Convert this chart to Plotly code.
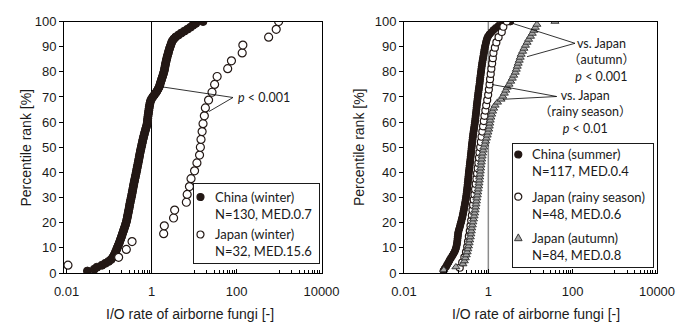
import plotly.graph_objects as go

# ---------------- data ----------------
china_winter = [0.031, 0.045, 0.052, 0.068, 0.082, 0.098, 0.112, 0.122, 0.130, 0.137,
                0.143, 0.150, 0.156, 0.163, 0.170, 0.177, 0.184, 0.191, 0.198, 0.205,
                0.212, 0.220, 0.228, 0.236, 0.244, 0.252, 0.259, 0.265, 0.270, 0.276,
                0.282, 0.288, 0.294, 0.300, 0.305, 0.311, 0.318, 0.325, 0.333, 0.340,
                0.347, 0.354, 0.361, 0.368, 0.375, 0.383, 0.391, 0.400, 0.409, 0.418,
                0.428, 0.437, 0.446, 0.455, 0.465, 0.475, 0.485, 0.495, 0.505, 0.515,
                0.525, 0.536, 0.547, 0.560, 0.573, 0.586, 0.600, 0.614, 0.628, 0.645,
                0.662, 0.680, 0.700, 0.720, 0.742, 0.765, 0.785, 0.795, 0.805, 0.815,
                0.825, 0.837, 0.850, 0.862, 0.875, 0.890, 0.905, 0.925, 0.950, 1.000,
                1.07, 1.16, 1.25, 1.34, 1.42, 1.50, 1.56, 1.61, 1.66, 1.72,
                1.78, 1.84, 1.90, 1.96, 2.01, 2.05, 2.09, 2.13, 2.18, 2.23,
                2.29, 2.35, 2.42, 2.50, 2.56, 2.65, 2.75, 2.85, 2.95, 3.10,
                3.35, 3.70, 4.30, 5.00, 5.90, 7.00, 8.20, 9.40, 11.0, 16.3]

japan_winter = [0.0108, 0.168, 0.255, 0.348, 1.93, 2.0, 3.3, 3.5, 6.6, 6.9,
                7.8, 8.5, 10.3, 11.7, 13.5, 14.1, 14.6, 15.5, 16.3, 17.5,
                18.5, 22.0, 26.5, 30.5, 35.0, 62.0, 76.0, 136.0, 141.0, 570.0,
                860.0, 980.0]

china_summer = [0.086, 0.092, 0.100, 0.106, 0.114, 0.121, 0.130, 0.140, 0.150, 0.160,
                0.167, 0.173, 0.178, 0.181, 0.184, 0.186, 0.189, 0.191, 0.194, 0.200,
                0.208, 0.214, 0.221, 0.228, 0.235, 0.242, 0.248, 0.254, 0.260, 0.266,
                0.272, 0.278, 0.284, 0.290, 0.295, 0.300, 0.305, 0.310, 0.314, 0.318,
                0.322, 0.326, 0.330, 0.334, 0.338, 0.342, 0.346, 0.351, 0.356, 0.361,
                0.366, 0.371, 0.376, 0.381, 0.386, 0.391, 0.396, 0.400, 0.405, 0.410,
                0.416, 0.422, 0.428, 0.434, 0.440, 0.448, 0.456, 0.464, 0.472, 0.480,
                0.487, 0.494, 0.500, 0.507, 0.514, 0.521, 0.527, 0.533, 0.540, 0.548,
                0.556, 0.564, 0.572, 0.580, 0.590, 0.600, 0.610, 0.620, 0.628, 0.636,
                0.645, 0.655, 0.665, 0.675, 0.685, 0.696, 0.708, 0.720, 0.735, 0.750,
                0.765, 0.780, 0.795, 0.810, 0.830, 0.850, 0.875, 0.900, 0.930, 0.980,
                1.06, 1.18, 1.32, 1.50, 1.75, 2.30, 3.30]

japan_rainy = [0.21, 0.24, 0.27, 0.295, 0.315, 0.33, 0.345, 0.363, 0.377, 0.392,
               0.407, 0.42, 0.435, 0.45, 0.468, 0.485, 0.503, 0.522, 0.54, 0.56,
               0.58, 0.60, 0.615, 0.64, 0.665, 0.69, 0.72, 0.75, 0.78, 0.81,
               0.85, 0.89, 0.94, 0.99, 1.03, 1.07, 1.10, 1.14, 1.18, 1.23,
               1.28, 1.32, 1.43, 1.55, 1.75, 2.08, 2.27, 2.75]

japan_autumn = [0.088, 0.17, 0.25, 0.27, 0.285, 0.30, 0.315, 0.327, 0.338, 0.35,
                0.362, 0.374, 0.385, 0.395, 0.405, 0.418, 0.43, 0.445, 0.46, 0.473,
                0.486, 0.498, 0.51, 0.522, 0.535, 0.548, 0.56, 0.573, 0.587, 0.60,
                0.612, 0.623, 0.634, 0.645, 0.656, 0.668, 0.682, 0.697, 0.713, 0.73,
                0.755, 0.78, 0.82, 0.86, 0.90, 0.94, 0.98, 1.02, 1.05, 1.08,
                1.11, 1.15, 1.20, 1.26, 1.34, 1.45, 1.65, 2.0, 2.2, 2.4,
                2.6, 2.8, 3.1, 3.4, 3.7, 4.0, 4.35, 4.6, 4.85, 5.1,
                5.4, 5.7, 6.0, 6.5, 7.0, 7.6, 8.3, 9.0, 10.0, 11.0,
                12.0, 13.0, 14.2, 38.0]

x_tick_vals = [0.01, 1, 100, 10000]
x_tick_text = ["0.01", "1", "100", "10000"]
x_minor_vals = [0.1, 0.2, 0.3, 0.4, 0.5, 0.6, 0.7, 0.8, 0.9,
                10, 20, 30, 40, 50, 60, 70, 80, 90,
                1000, 2000, 3000, 4000, 5000, 6000, 7000, 8000, 9000]

legend_left = ["China (winter)<br>N=130, MED.0.7", "Japan (winter)<br>N=32, MED.15.6"]
legend_right = ["China (summer)<br>N=117, MED.0.4", "Japan (rainy season)<br>N=48, MED.0.6",
                "Japan (autumn)<br>N=84, MED.0.8"]
callout_left = "<i>p</i> &lt; 0.001"
callout_autumn = "vs. Japan<br>（autumn）<br><i>p</i> &lt; 0.001"
callout_rainy = "vs. Japan<br>（rainy season）<br><i>p</i> &lt; 0.01"
x_title = "I/O rate of airborne fungi [-]"
y_title = "Percentile rank [%]"


def pct_rank(vals):
    n = len(vals)
    return [100.0 * (i + 1) / n for i in range(n)]


# ---------------- styling ----------------
W, H = 678, 322
TICK_FONT = dict(family="Liberation Sans, Arial", size=13, color="#1a1a1a")
TXT_FONT = "Lato, Noto Sans CJK JP, sans-serif"
BLACK = "#231815"


def px(x):
    return x / W


def py(y):
    return 1 - y / H


fig = go.Figure()

filled = dict(symbol="circle", size=8, color=BLACK, line=dict(color=BLACK, width=1))
opencirc = dict(symbol="circle", size=8, color="white", line=dict(color=BLACK, width=1.2))

fig.add_trace(go.Scatter(x=sorted(china_winter), y=pct_rank(china_winter), mode="markers",
                         marker=filled, xaxis="x", yaxis="y", showlegend=False))
fig.add_trace(go.Scatter(x=sorted(japan_winter), y=pct_rank(japan_winter), mode="markers",
                         marker=opencirc, xaxis="x", yaxis="y", showlegend=False))

fig.add_trace(go.Scatter(x=sorted(china_summer), y=pct_rank(china_summer), mode="markers",
                         marker=dict(symbol="circle", size=7, color=BLACK, line=dict(color=BLACK, width=1)),
                         xaxis="x2", yaxis="y2", showlegend=False))
fig.add_trace(go.Scatter(x=sorted(japan_rainy), y=pct_rank(japan_rainy), mode="markers",
                         marker=dict(symbol="circle", size=7, color="white", line=dict(color=BLACK, width=1.2)),
                         xaxis="x2", yaxis="y2", showlegend=False))
fig.add_trace(go.Scatter(x=sorted(japan_autumn), y=pct_rank(japan_autumn), mode="markers",
                         marker=dict(symbol="triangle-up", size=7, color="#a6a6a6",
                                     line=dict(color="#3a3a3a", width=1)),
                         xaxis="x2", yaxis="y2", showlegend=False))

xcommon = dict(type="log", tickvals=x_tick_vals, ticktext=x_tick_text, tickfont=TICK_FONT,
               ticks="inside", ticklen=4, tickcolor="black", showline=True, linecolor="black",
               linewidth=1, mirror=True, showgrid=False, zeroline=False, ticklabelstandoff=6,
               minor=dict(tickvals=x_minor_vals, ticks="inside", ticklen=3, tickcolor="black",
                          showgrid=False))
ycommon = dict(range=[0, 100], dtick=10, tick0=0, tickfont=TICK_FONT, ticks="outside", ticklen=4,
               tickcolor="black", showline=True, linecolor="black", linewidth=1, mirror=True,
               showgrid=False, zeroline=False, domain=[py(273), py(21.5)])

fig.update_layout(
    width=W, height=H, margin=dict(l=0, r=0, t=0, b=0, pad=0, autoexpand=False),
    paper_bgcolor="white", plot_bgcolor="white", showlegend=False,
    xaxis=dict(xcommon, domain=[px(64), px(321.5)], range=[-2.06, 4], anchor="y"),
    yaxis=dict(ycommon, anchor="x"),
    xaxis2=dict(xcommon, domain=[px(404), px(657)], range=[-2, 4], anchor="y2"),
    yaxis2=dict(ycommon, anchor="x2"),
)

shapes = []
# reference lines at I/O = 1
shapes.append(dict(type="line", xref="x", yref="y domain", x0=1, x1=1, y0=0, y1=1,
                   line=dict(color="black", width=1), layer="below"))
shapes.append(dict(type="line", xref="x2", yref="y2 domain", x0=1, x1=1, y0=0, y1=1,
                   line=dict(color="#8c8c8c", width=1.5), layer="below"))


def seg(x0, y0, x1, y1):
    return dict(type="line", xref="paper", yref="paper", x0=px(x0), y0=py(y0), x1=px(x1), y1=py(y1),
                line=dict(color="black", width=0.8))


# callout lines
shapes += [seg(233, 97.5, 163, 87), seg(233, 97.5, 209, 111.5)]
shapes += [seg(575, 43.3, 513, 23.5), seg(575, 43.3, 527, 56.7)]
shapes += [seg(556.7, 96.5, 492, 84.5), seg(556.7, 96.5, 503, 99.3)]


def key_circle(x, y, fill, r=3.5):
    return dict(type="circle", xref="paper", yref="paper", xsizemode="pixel", ysizemode="pixel",
                xanchor=px(x), yanchor=py(y), x0=-r, x1=r, y0=-r, y1=r, fillcolor=fill,
                line=dict(color=BLACK, width=1.2))


shapes.append(key_circle(200.5, 197, BLACK))
shapes.append(key_circle(200.5, 234.5, "white"))
shapes.append(key_circle(518.3, 154.5, BLACK))
shapes.append(key_circle(518.3, 196.7, "white"))
shapes.append(dict(type="path", xref="paper", yref="paper", xsizemode="pixel", ysizemode="pixel",
                   xanchor=px(518.3), yanchor=py(237.7), path="M -3.8,-3 L 3.8,-3 L 0,3.8 Z",
                   fillcolor="#a6a6a6", line=dict(color="#3a3a3a", width=1)))
fig.update_layout(shapes=shapes)

ann = []

# legend boxes (drawn as bordered empty annotations)
for (bx0, by0, bx1, by1) in [(193, 183, 320, 264), (512, 143, 654, 268)]:
    ann.append(dict(x=px((bx0 + bx1) / 2), y=py((by0 + by1) / 2), xref="paper", yref="paper",
                    text=" ", showarrow=False, xanchor="center", yanchor="middle",
                    width=bx1 - bx0 - 2, height=by1 - by0 - 2, borderpad=0, borderwidth=1,
                    bordercolor="#1a1a1a", bgcolor="rgba(0,0,0,0)", font=dict(size=1)))


def txt(x, y, s, size=13, anchor="left", align="left"):
    ann.append(dict(x=px(x), y=py(y), xref="paper", yref="paper", text=s, showarrow=False,
                    xanchor=anchor, yanchor="middle", align=align,
                    font=dict(family=TXT_FONT, size=size, color="#1a1a1a")))


# legend texts (two lines per entry; center = first line + half line spacing)
LS = 13
half = LS * 1.3 / 2
for s, y1 in zip(legend_left, [197, 234]):
    txt(213, y1 + half, s, size=LS)
for s, y1 in zip(legend_right, [154.5, 196.7, 237.7]):
    txt(529.5, y1 + half, s, size=LS)

# callout texts
CS = 12.5
txt(236, 97.5, callout_left, size=CS)
txt(601, 43.3 + CS * 1.3, callout_autumn, size=CS, anchor="center", align="center")
txt(585, 95.7 + CS * 1.3, callout_rainy, size=CS, anchor="center", align="center")

# axis titles
for cx in [190, 536]:
    ann.append(dict(x=px(cx), y=py(314), xref="paper", yref="paper", text=x_title, showarrow=False,
                    xanchor="center", yanchor="middle",
                    font=dict(family="Liberation Sans, Arial", size=14, color="#1a1a1a")))
for cx in [25, 358.5]:
    ann.append(dict(x=px(cx), y=py(147.5), xref="paper", yref="paper", text=y_title, showarrow=False,
                    xanchor="center", yanchor="middle", textangle=-90,
                    font=dict(family="Liberation Sans, Arial", size=14, color="#1a1a1a")))

fig.update_layout(annotations=ann)
fig.write_html("out.html", config={"displayModeBar": False},
               post_script="document.body.style.margin='0px';")
